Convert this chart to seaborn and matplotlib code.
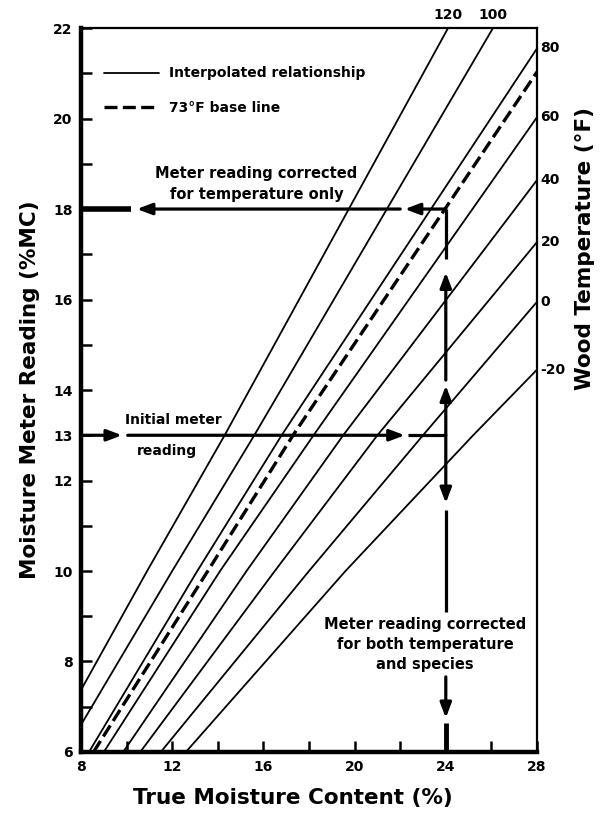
import numpy as np
import pandas as pd
import seaborn as sns
import matplotlib.pyplot as plt

x_120 = [8.0, 10.9, 14.3, 24.1]
y_120 = [7.37, 10, 13, 22]
x_100 = [8.0, 12.0, 15.6, 26.07]
y_100 = [6.6, 10, 13, 22]
x_80 = [8.35, 13.1, 16.8, 28]
y_80 = [6, 10, 13, 21.55]
x_60 = [9.0, 14.1, 18.2, 28]
y_60 = [6, 10, 13, 20.03]
x_40 = [9.85, 15.26, 19.5, 28]
y_40 = [6, 10, 13, 18.64]
x_20 = [10.6, 16.5, 21.0, 28]
y_20 = [6, 10, 13, 17.27]
x_0 = [11.5, 18.0, 23.0, 28]
y_0 = [6, 10, 13, 15.95]
x_m20 = [12.6, 19.6, 25.2, 28]
y_m20 = [6, 10, 13, 14.45]
# 73F base line
x_73 = [8.55, 13.56, 17.3, 28]
y_73 = [6, 10, 13, 21.03]

temps = [120, 100, 80, 60, 40, 20, 0, -20]
right_temps = [80, 60, 40, 20, 0, -20]
top_temps = [120, 100]

# worked example
initial_reading = 13
corrected_reading = 18
true_mc = 24

y_labeled = [6, 8, 10, 12, 13, 14, 16, 18, 20, 22]
x_labeled = [8, 12, 16, 20, 24, 28]

sns.set_theme(style="ticks")
plt.rcParams['font.family'] = ['DejaVu Sans']
plt.rcParams['font.weight'] = 'bold'
plt.rcParams['text.color'] = 'black'
plt.rcParams['axes.labelcolor'] = 'black'

fig = plt.figure(figsize=(6, 8.18), dpi=100)
ax = fig.add_axes([0.135, 0.0807, 0.76, 0.885])

curves = {120: (x_120, y_120), 100: (x_100, y_100), 80: (x_80, y_80), 60: (x_60, y_60),
          40: (x_40, y_40), 20: (x_20, y_20), 0: (x_0, y_0), -20: (x_m20, y_m20)}

for t in temps:
    xs, ys = curves[t]
    sns.lineplot(x=xs, y=ys, color="black", lw=1.3, sort=False, estimator=None, ax=ax)
h_solid = ax.lines[0]
sns.lineplot(x=x_73, y=y_73, color="black", lw=2.4, sort=False, estimator=None, ax=ax)
h_dash = ax.lines[-1]
h_dash.set_dashes((3.9, 1.6))

ax.set_xlim(8, 28)
ax.set_ylim(6, 22)

# temperature labels at the line ends
for t in right_temps:
    ax.text(28.15, curves[t][1][-1], "-" + str(abs(t)) if t < 0 else str(t),
            ha="left", va="center", fontsize=10, fontweight="bold")
for t in top_temps:
    ax.text(curves[t][0][-1], 22.13, str(t), ha="center", va="bottom",
            fontsize=10, fontweight="bold")

# arrows
def arrow(x0, y0, x1, y1):
    ax.annotate("", xy=(x1, y1), xytext=(x0, y0),
                arrowprops=dict(arrowstyle="-|>,head_length=0.45,head_width=0.17",
                                lw=2.3, color="black", mutation_scale=20,
                                shrinkA=0, shrinkB=0))

def seg(x0, y0, x1, y1, lw=2.3):
    ax.plot([x0, x1], [y0, y1], color="black", lw=lw, solid_capstyle="butt")

# initial reading -> right
arrow(8, initial_reading, 9.8, initial_reading)
arrow(10.05, initial_reading, 22.2, initial_reading)
seg(22.35, initial_reading, true_mc, initial_reading)
# up to the base line
arrow(true_mc, initial_reading, true_mc, 14.1)
arrow(true_mc, 14.22, true_mc, 16.6)
seg(true_mc, 16.9, true_mc, corrected_reading)
# corrected for temperature -> left
arrow(true_mc, corrected_reading, 22.2, corrected_reading)
arrow(22.0, corrected_reading, 10.45, corrected_reading)
seg(8, corrected_reading, 10.2, corrected_reading, lw=4)
# down to the true MC
arrow(true_mc, initial_reading, true_mc, 11.5)
seg(true_mc, 11.35, true_mc, 9.1)
arrow(true_mc, 7.66, true_mc, 6.75)
seg(true_mc, 6.65, true_mc, 6, lw=3.5)

# notes
ax.text(15.7, 18.56, "Meter reading corrected\nfor temperature only", ha="center",
        va="center", fontsize=10.5, fontweight="bold", linespacing=1.5)
ax.text(12.05, 13.34, "Initial meter", ha="center", va="center", fontsize=10, fontweight="bold")
ax.text(11.75, 12.65, "reading", ha="center", va="center", fontsize=10, fontweight="bold")
ax.text(23.1, 8.38, "Meter reading corrected\nfor both temperature\nand species", ha="center",
        va="center", fontsize=10.5, fontweight="bold", linespacing=1.4,
        bbox=dict(facecolor="white", edgecolor="none", pad=1))

ax.legend([h_solid, h_dash], ["Interpolated relationship", "73\u00b0F base line"],
          loc="upper left", bbox_to_anchor=(0.05, 0.947), frameon=False,
          handlelength=4.0, handletextpad=0.7, labelspacing=1.5, borderaxespad=0,
          borderpad=0, prop=dict(size=10, weight="bold"))

# axes
ax.set_yticks(range(6, 23))
ax.set_yticklabels([str(v) if v in y_labeled else "" for v in range(6, 23)])
ax.set_xticks(range(8, 29, 2))
ax.set_xticklabels([str(v) if v in x_labeled else "" for v in range(8, 29, 2)])
ax.tick_params(direction="in", length=8, width=1.8, labelsize=10, pad=6, colors="black")
for lab in ax.get_xticklabels() + ax.get_yticklabels():
    lab.set_fontweight("bold")

for side in ["left", "bottom"]:
    ax.spines[side].set_linewidth(3.2)
for side in ["top", "right"]:
    ax.spines[side].set_linewidth(1.6)
for s in ax.spines.values():
    s.set_color("black")

ax.set_xlabel("True Moisture Content (%)", fontsize=15.5, fontweight="bold")
ax.xaxis.set_label_coords(0.465, -0.05)
ax.set_ylabel("Moisture Meter Reading (%MC)", fontsize=15.5, fontweight="bold")
ax.yaxis.set_label_coords(-0.09, 0.5)
ax.text(1.105, 0.696, "Wood Temperature (\u00b0F)", transform=ax.transAxes, rotation=90,
        ha="center", va="center", fontsize=15.5, fontweight="bold")

fig.savefig("out.png", dpi=100)
